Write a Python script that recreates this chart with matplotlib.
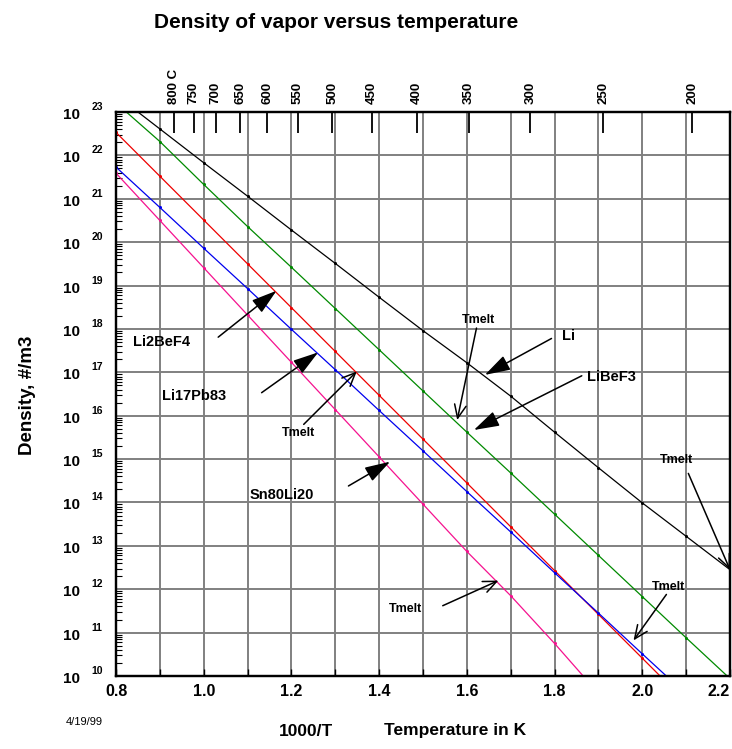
import numpy as np
import matplotlib.pyplot as plt
from matplotlib.ticker import MultipleLocator, LogLocator, NullFormatter

plt.rcParams['font.family'] = ['Liberation Sans Narrow', 'Liberation Sans', 'DejaVu Sans']

# 1000/T grid (1/K) and log10 of vapor density (#/m3) for each material
inv_t = [0.80, 0.90, 1.00, 1.10, 1.20, 1.30, 1.40, 1.50, 1.60, 1.70, 1.80, 1.90, 2.00, 2.10, 2.20]
li_log = [23.39, 22.61, 21.83, 21.06, 20.28, 19.51, 18.73, 17.96, 17.22, 16.45, 15.62, 14.80, 13.99, 13.22, 12.45]
libef3_log = [23.21, 22.32, 21.33, 20.36, 19.42, 18.47, 17.52, 16.57, 15.62, 14.68, 13.73, 12.78, 11.83, 10.88, 9.94]
li2bef4_log = [22.53, 21.52, 20.51, 19.50, 18.49, 17.48, 16.47, 15.46, 14.45, 13.44, 12.43, 11.42, 10.41, 9.40, 8.39]
lipb_log = [21.73, 20.80, 19.86, 18.93, 17.99, 17.06, 16.12, 15.19, 14.25, 13.32, 12.38, 11.45, 10.51, 9.58, 8.64]
snli_log = [21.59, 20.50, 19.41, 18.32, 17.23, 16.14, 15.05, 13.96, 12.87, 11.85, 10.75, 9.60, 8.50, 7.40, 6.30]

# Celsius marks along the top axis
celsius = [800, 750, 700, 650, 600, 550, 500, 450, 400, 350, 300, 250, 200]
celsius_labels = ['800 C', '750', '700', '650', '600', '550', '500', '450', '400', '350', '300', '250', '200']

series = [
    (li_log, 'black'),
    (libef3_log, '#008a00'),
    (li2bef4_log, '#ee0000'),
    (lipb_log, '#0000ee'),
    (snli_log, '#f5128f'),
]

fig = plt.figure(figsize=(7.32, 7.49), dpi=100)
ax = fig.add_axes([116 / 732, 73 / 749, 614 / 732, 564 / 749])

for vals, col in series:
    ax.plot(inv_t, 10 ** np.array(vals), color=col, lw=0.9, marker='o', ms=1.2, zorder=3)

ax.set_yscale('log')
ax.set_xlim(0.8, 2.2)
ax.set_ylim(1e10, 1e23)

# grid: every 0.1 in 1000/T, every decade in density
ax.xaxis.set_major_locator(MultipleLocator(0.2))
ax.xaxis.set_minor_locator(MultipleLocator(0.1))
# the 2.2 label is placed separately so it stays on the sheet
ax.xaxis.set_major_formatter(lambda v, p: '' if v > 2.15 else f'{v:.1f}')
ax.yaxis.set_major_locator(LogLocator(base=10, numticks=20))
ax.yaxis.set_minor_locator(LogLocator(base=10, subs=np.arange(2, 10), numticks=20))
ax.yaxis.set_major_formatter(NullFormatter())
ax.yaxis.set_minor_formatter(NullFormatter())
ax.grid(True, which='major', color='#808080', lw=1.4)
ax.grid(True, which='minor', axis='x', color='#808080', lw=1.4)
ax.set_axisbelow(True)

ax.tick_params(axis='x', which='both', direction='in', length=5, width=1, top=False,
               labelsize=11.5, pad=6)
ax.tick_params(axis='y', which='major', direction='in', length=0)
ax.tick_params(axis='y', which='minor', direction='in', length=4, width=0.8)
for lab in ax.get_xticklabels():
    lab.set_fontweight('bold')
ax.annotate('2.2', xy=(2.2, 0), xycoords=('data', 'axes fraction'), xytext=(0, -16),
            textcoords='offset pixels', ha='right', va='center', fontsize=11.5,
            fontweight='bold', annotation_clip=False)
for sp in ax.spines.values():
    sp.set_linewidth(1.6)

# 10^n labels with the exponent set apart, as on the plotted sheet
for e in range(10, 24):
    ax.annotate('10', xy=(0, 10.0 ** e), xycoords=('axes fraction', 'data'),
                xytext=(-44, -3), textcoords='offset pixels', ha='center', va='center',
                fontsize=11, fontweight='bold')
    ax.annotate(str(e), xy=(0, 10.0 ** e), xycoords=('axes fraction', 'data'),
                xytext=(-19, 5), textcoords='offset pixels', ha='center', va='center',
                fontsize=7.5, fontweight='bold')

# top axis in degrees C
ax2 = ax.twiny()
ax2.set_xlim(ax.get_xlim())
ax2.set_xticks([1000 / (c + 273.15) for c in celsius])
ax2.set_xticklabels(celsius_labels, rotation=90, fontsize=9.5, fontweight='bold')
ax2.tick_params(axis='x', which='major', direction='in', length=15, width=1.3, pad=6)
ax2.xaxis.set_minor_locator(plt.NullLocator())
for sp in ax2.spines.values():
    sp.set_linewidth(1.6)


def log_pt(x, lg):
    return (x, 10.0 ** lg)


filled = dict(arrowstyle='-|>,head_length=1.3,head_width=0.4', color='black', lw=1.1,
              mutation_scale=12, shrinkA=0, shrinkB=0)
opened = dict(arrowstyle='->,head_length=0.8,head_width=0.35', color='black', lw=1.1,
              mutation_scale=12, shrinkA=0, shrinkB=0)
lbl = dict(fontsize=10.5, fontweight='bold', ha='center', va='center')
small = dict(fontsize=9, fontweight='bold', ha='center', va='center')

ax.text(0.904, 10 ** 17.71, 'Li2BeF4', **lbl)
ax.annotate('', xy=log_pt(1.166, 18.88), xytext=log_pt(1.033, 17.81), arrowprops=filled)
ax.text(0.978, 10 ** 16.46, 'Li17Pb83', **lbl)
ax.annotate('', xy=log_pt(1.261, 17.46), xytext=log_pt(1.132, 16.53), arrowprops=filled)
ax.text(1.216, 10 ** 15.60, 'Tmelt', **small)
ax.annotate('', xy=log_pt(1.349, 17.02), xytext=log_pt(1.228, 15.80), arrowprops=opened)
ax.text(1.178, 10 ** 14.18, 'Sn80Li20', **lbl)
ax.annotate('', xy=log_pt(1.425, 14.94), xytext=log_pt(1.330, 14.38), arrowprops=filled)
ax.text(1.461, 10 ** 11.54, 'Tmelt', **small)
ax.annotate('', xy=log_pt(1.672, 12.20), xytext=log_pt(1.545, 11.62), arrowprops=opened)
ax.text(2.059, 10 ** 12.04, 'Tmelt', **small)
ax.annotate('', xy=log_pt(1.980, 10.82), xytext=log_pt(2.055, 11.88), arrowprops=opened)
ax.text(1.626, 10 ** 18.21, 'Tmelt', **small)
ax.annotate('', xy=log_pt(1.578, 15.90), xytext=log_pt(1.622, 18.02), arrowprops=opened)
ax.text(1.831, 10 ** 17.84, 'Li', **lbl)
ax.annotate('', xy=log_pt(1.641, 16.94), xytext=log_pt(1.793, 17.78), arrowprops=filled)
ax.text(1.930, 10 ** 16.89, 'LiBeF3', **lbl)
ax.annotate('', xy=log_pt(1.616, 15.67), xytext=log_pt(1.862, 16.92), arrowprops=filled)
ax.text(2.078, 10 ** 14.98, 'Tmelt', **small)
ax.annotate('', xy=log_pt(2.2, 12.45), xytext=log_pt(2.105, 14.67), arrowprops=opened,
            annotation_clip=False)

fig.text(336 / 732, 1 - 22 / 749, 'Density of vapor versus temperature', fontsize=15,
         fontweight='bold', ha='center', va='center')
fig.text(27 / 732, 1 - 395 / 749, 'Density, #/m3', fontsize=13.5, fontweight='bold',
         rotation=90, ha='center', va='center')
fig.text(306 / 732, 1 - 731 / 749, '1000/T', fontsize=12.5, fontweight='bold',
         ha='center', va='center')
fig.text(455 / 732, 1 - 731 / 749, 'Temperature in K', fontsize=12.5, fontweight='bold',
         ha='center', va='center')
fig.text(84 / 732, 1 - 722 / 749, '4/19/99', fontsize=8, ha='center', va='center')

fig.savefig('out.png', dpi=100)
